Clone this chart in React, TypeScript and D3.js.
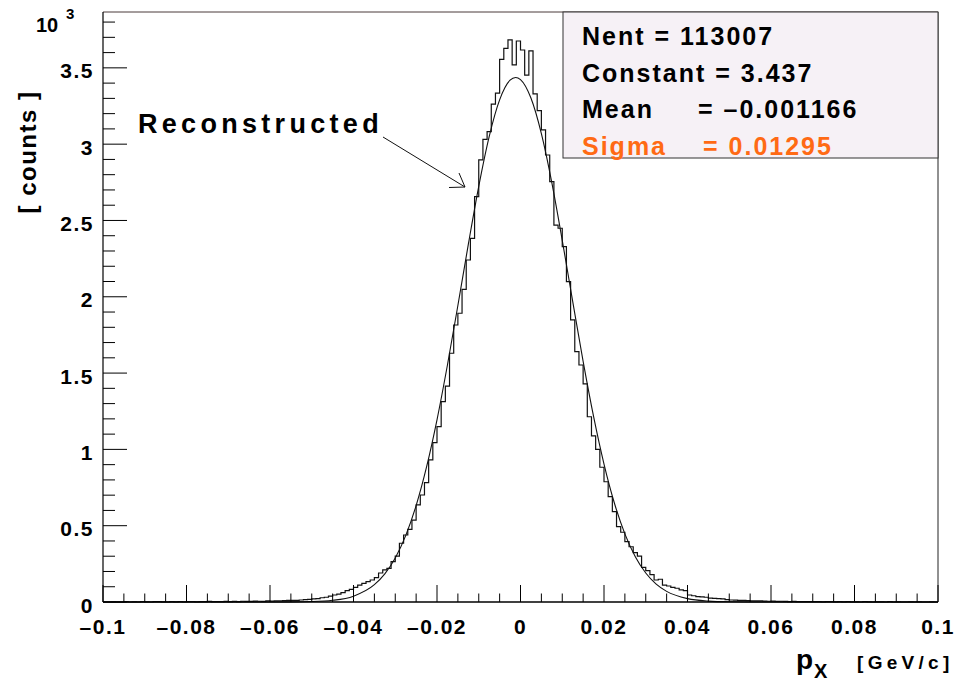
import React from "react";
import * as d3 from "d3";

// histogram: 200 bins of 0.001 GeV/c from -0.1 to 0.1, contents in units of 10^3
const binLow = -0.1;
const binWidth = 0.001;
const counts = [
  0, 0, 0.001, 0, 0, 0.002, 0, 0.001, 0, 0.002,
  0.001, 0, 0.002, 0.002, 0.001, 0, 0.003, 0.001, 0.002, 0.001,
  0.003, 0.002, 0.001, 0.003, 0.002, 0.004, 0.002, 0.003, 0.002, 0.004,
  0.003, 0.004, 0.003, 0.005, 0.004, 0.004, 0.006, 0.005, 0.004, 0.007,
  0.006, 0.008, 0.007, 0.009, 0.010, 0.011, 0.010, 0.013, 0.015, 0.017,
  0.020, 0.022, 0.028, 0.031, 0.039, 0.046, 0.052, 0.061, 0.074, 0.083,
  0.096, 0.111, 0.122, 0.133, 0.144, 0.160, 0.190, 0.210, 0.220, 0.264,
  0.300, 0.385, 0.439, 0.476, 0.537, 0.636, 0.701, 0.782, 0.931, 1.044,
  1.149, 1.313, 1.415, 1.630, 1.815, 1.892, 2.049, 2.241, 2.383, 2.656,
  2.897, 3.032, 3.082, 3.263, 3.334, 3.556, 3.628, 3.683, 3.519, 3.676,
  3.617, 3.453, 3.611, 3.329, 3.220, 3.093, 2.929, 2.754, 2.470, 2.449,
  2.329, 2.099, 1.848, 1.640, 1.553, 1.429, 1.214, 1.088, 1.000, 0.883,
  0.788, 0.690, 0.592, 0.494, 0.457, 0.395, 0.362, 0.323, 0.301, 0.227,
  0.205, 0.180, 0.144, 0.149, 0.111, 0.105, 0.096, 0.090, 0.079, 0.074,
  0.046, 0.041, 0.035, 0.033, 0.031, 0.026, 0.024, 0.022, 0.020, 0.015,
  0.013, 0.012, 0.010, 0.011, 0.009, 0.008, 0.007, 0.008, 0.006, 0.005,
  0.006, 0.004, 0.005, 0.004, 0.003, 0.004, 0.003, 0.002, 0.003, 0.002,
  0.003, 0.002, 0.001, 0.002, 0.003, 0.001, 0.002, 0.001, 0.002, 0.001,
  0.001, 0, 0.002, 0.001, 0, 0.001, 0.001, 0, 0.002, 0,
  0.001, 0, 0, 0.001, 0, 0.001, 0, 0, 0.001, 0,
];

// gaussian fit curve
const fitX = [
  -0.1, -0.07, -0.06, -0.055, -0.05, -0.045, -0.04, -0.035, -0.0325, -0.03, -0.0275,
  -0.025, -0.0225, -0.02, -0.0175, -0.015, -0.0125, -0.01, -0.0075, -0.005, -0.0025,
  -0.00117, 0, 0.0025, 0.005, 0.0075, 0.01, 0.0125, 0.015, 0.0175, 0.02, 0.0225,
  0.025, 0.0275, 0.03, 0.0325, 0.035, 0.04, 0.045, 0.05, 0.055, 0.06, 0.07, 0.1,
];
const fitY = [
  0, 0, 0.0001, 0.0006, 0.0028, 0.0112, 0.0383, 0.1133, 0.184, 0.2881, 0.435,
  0.632, 0.885, 1.194, 1.553, 1.943, 2.343, 2.724, 3.05, 3.29, 3.419,
  3.437, 3.423, 3.302, 3.069, 2.748, 2.37, 1.97, 1.577, 1.216, 0.904, 0.647,
  0.4465, 0.2966, 0.19, 0.117, 0.0696, 0.022, 0.006, 0.0014, 0.0003, 0, 0, 0,
];

const xTicks = [-0.1, -0.08, -0.06, -0.04, -0.02, 0, 0.02, 0.04, 0.06, 0.08, 0.1];
const xTickLabels = ["\u20130.1", "\u20130.08", "\u20130.06", "\u20130.04", "\u20130.02", "0", "0.02", "0.04", "0.06", "0.08", "0.1"];
const yTicks = [0, 0.5, 1, 1.5, 2, 2.5, 3, 3.5];
const yTickLabels = ["0", "0.5", "1", "1.5", "2", "2.5", "3", "3.5"];

const statNames = ["Nent = 113007", "Constant = 3.437", "Mean", "Sigma"];
const statValues = ["", "", "= \u20130.001166", "= 0.01295"];
const statColors = ["#000", "#000", "#000", "#ff6a14"];

const W = 955;
const H = 681;
const font = "'Liberation Sans', Arial, Helvetica, sans-serif";

export default function App() {
  const x = d3.scaleLinear().domain([-0.1, 0.1]).range([103, 938]);
  const y = d3.scaleLinear().domain([0, 3.866]).range([602, 12]);

  // step outline of the histogram
  const pts: [number, number][] = counts.map((c, i) => [binLow + i * binWidth, c]);
  pts.push([binLow + counts.length * binWidth, counts[counts.length - 1]]);
  const histLine = d3.line<[number, number]>()
    .x(d => x(d[0]))
    .y(d => y(d[1]))
    .curve(d3.curveStepAfter);
  const histPath =
    `M${x(binLow)},${y(0)}L` + (histLine(pts) || "").slice(1) + `L${x(0.1)},${y(0)}`;

  const fitLine = d3.line<number>()
    .x((d, i) => x(fitX[i]))
    .y(d => y(d))
    .curve(d3.curveMonotoneX);

  const xMinor = d3.range(41).map(i => -0.1 + i * 0.005);
  const yMinor = d3.range(39).map(i => i * 0.1);

  return (
    <svg width={W} height={H} style={{ position: "absolute", left: 0, top: 0, background: "#fff" }}
      fontFamily={font} fontWeight="bold">
      {/* frame */}
      <line x1={103} x2={938} y1={12} y2={12} stroke="#4a3a3a" strokeWidth={1} />
      <line x1={938} x2={938} y1={12} y2={602} stroke="#222" strokeWidth={1} />

      {/* histogram and fit */}
      <path d={histPath} fill="none" stroke="#111" strokeWidth={1.2} />
      <path d={fitLine(fitY) || ""} fill="none" stroke="#111" strokeWidth={1.1} />

      {/* x axis */}
      <line x1={103} x2={938} y1={602} y2={602} stroke="#000" strokeWidth={1.5} />
      {xMinor.map((v, i) => (
        <line key={"xm" + i} x1={x(v)} x2={x(v)} y1={602} y2={i % 4 === 0 ? 585 : 593.5}
          stroke="#000" strokeWidth={1} />
      ))}
      {xTicks.map((v, i) => (
        <text key={"xl" + i} x={x(v)} y={634} textAnchor="middle" fontSize={21}
          style={{ letterSpacing: "1.5px" }}>{xTickLabels[i]}</text>
      ))}

      {/* y axis */}
      <line x1={103} x2={103} y1={12} y2={602} stroke="#000" strokeWidth={1.2} />
      {yMinor.map((v, i) => (
        <line key={"ym" + i} x1={103} x2={i % 5 === 0 ? 127 : 115} y1={y(v)} y2={y(v)}
          stroke="#000" strokeWidth={1} />
      ))}
      {yTicks.map((v, i) => (
        <text key={"yl" + i} x={94} y={y(v) + 10.5} textAnchor="end" fontSize={21}
          style={{ letterSpacing: "1.5px" }}>{yTickLabels[i]}</text>
      ))}
      <text x={36} y={32} fontSize={20}>10</text>
      <text x={66} y={19} fontSize={15}>3</text>

      {/* axis titles */}
      <text transform="translate(36,152) rotate(-90)" textAnchor="middle" fontSize={24}
        style={{ letterSpacing: "1.5px" }}>[ counts ]</text>
      <text x={796} y={669} fontSize={28}>p</text>
      <text x={814} y={678} fontSize={20}>X</text>
      <text x={857} y={669} fontSize={19} style={{ letterSpacing: "4.3px" }}>[GeV/c]</text>

      {/* annotation */}
      <text x={138} y={133} fontSize={27} style={{ letterSpacing: "4.3px" }}>Reconstructed</text>
      <line x1={383} y1={137} x2={465} y2={187} stroke="#111" strokeWidth={1} />
      <line x1={449} y1={187.5} x2={465} y2={187} stroke="#111" strokeWidth={1} />
      <line x1={459} y1={173} x2={465} y2={187} stroke="#111" strokeWidth={1} />

      {/* stats box */}
      <rect x={563} y={12} width={375} height={146} fill="#f6f1f6" stroke="#333" strokeWidth={1} />
      {statNames.map((s, i) => (
        <g key={"st" + i} fill={statColors[i]} fontSize={25} style={{ letterSpacing: "2px" }}>
          <text x={582} y={45 + i * 36.7}>{s}</text>
          {statValues[i] && <text x={i === 2 ? 698 : 703} y={45 + i * 36.7}>{statValues[i]}</text>}
        </g>
      ))}
    </svg>
  );
}
